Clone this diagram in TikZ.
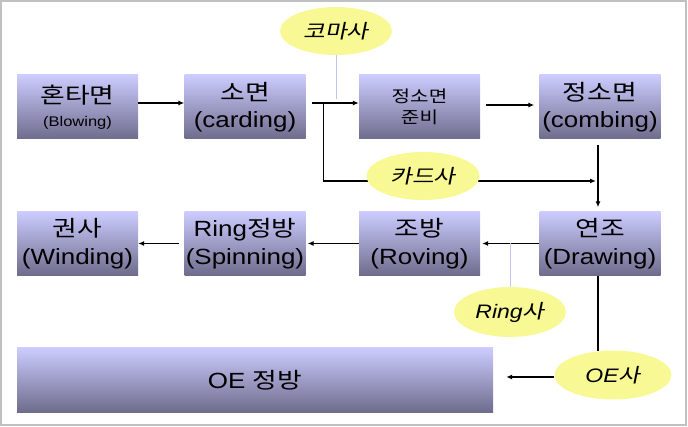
\documentclass[tikz,border=0pt]{standalone}
\usepackage{fontspec}
\setmainfont[FakeStretch=1.18]{Liberation Sans}
\newfontfamily\kr[FakeStretch=1.22]{Noto Sans CJK KR}
\newfontfamily\kri[FakeStretch=1.22,FakeSlant=0.2]{Noto Sans CJK KR}
\usetikzlibrary{arrows.meta,shapes.geometric}
\definecolor{boxtop}{HTML}{CCCCFF}
\definecolor{boxbot}{HTML}{6E6C8C}
\definecolor{ellfill}{HTML}{F8F894}
\definecolor{lav}{HTML}{C4C4EE}
\definecolor{framecol}{HTML}{C0C0C0}
\pgfdeclarelayer{bg}
\pgfsetlayers{bg,main}
\begin{document}
\begin{tikzpicture}[x=1pt,y=-1pt,
  procbox/.style={minimum width=121pt,minimum height=64pt,inner sep=0pt,
    top color=boxtop,bottom color=boxbot,align=center,
    font=\fontsize{22}{27.5}\selectfont},
  tag/.style={ellipse,fill=ellfill,inner sep=0pt,minimum width=113pt,minimum height=49pt,
    font=\fontsize{19.5}{22}\selectfont\itshape},
  arr/.style={line width=1.4pt,-{Latex[length=6pt,width=5pt]}},
  ln/.style={line width=1.4pt},
  lavline/.style={lav,line width=1pt}]
\useasboundingbox (0,0) rectangle (688,427);
\draw[framecol,line width=1.5pt] (1,1) rectangle (686,425);

% process boxes
\node[procbox] (blow) at (77.5,107) {{\kr 혼타면}\\[-4pt]{\fontsize{14}{17}\selectfont(Blowing)}};
\node[procbox] (card) at (245,107) {{\kr 소면}\\(carding)};
\node[procbox,font=\fontsize{16.5}{21.5}\selectfont\kr] (prep) at (419.5,107) {정소면\\준비};
\node[procbox] (comb) at (600,107) {{\kr 정소면}\\(combing)};
\node[procbox] (wind) at (77.5,243.5) {{\kr 권사}\\(Winding)};
\node[procbox] (spin) at (245,243.5) {Ring{\kr 정방}\\(Spinning)};
\node[procbox] (rov) at (419.5,243.5) {{\kr 조방}\\(Roving)};
\node[procbox] (drw) at (600,243.5) {{\kr 연조}\\(Drawing)};
\node[procbox,minimum width=476pt] (oe) at (255,380) {OE {\kr 정방}};

% yarn tags
\node[tag,minimum width=112pt,minimum height=48pt] (koma) at (336,31) {{\kri 코마사}};
\node[tag,minimum height=48pt] (cardsa) at (423,176) {{\kri 카드사}};
\node[tag,minimum width=112pt,minimum height=50pt] (ringsa) at (510,312) {Ring{\kri 사}};
\node[tag,minimum width=117pt] (oesa) at (613,375) {OE{\kri 사}};

% connectors
\coordinate (br) at ([xshift=18pt,yshift=4pt]card.east);
\coordinate (cj) at ([xshift=-4pt]comb.south |- cardsa);
\begin{pgfonlayer}{bg}
\draw[arr] (br) |- ([yshift=-5pt]cj);
\end{pgfonlayer}
\draw[arr] ([yshift=4pt]blow.east) -- ([yshift=4pt]card.west);
\draw[arr,shorten <=6pt] ([yshift=4pt]card.east) -- ([yshift=4pt]prep.west);
\draw[lavline] (koma.south) -- ([yshift=8pt]koma.south |- card.east);
\draw[arr,shorten <=6pt,shorten >=5pt] ([yshift=2pt]prep.east) -- ([yshift=2pt]comb.west);
\draw[arr,shorten <=6pt,shorten >=4pt] ([xshift=-2pt]comb.south) -- ([xshift=-2pt]drw.north);
\draw[arr,shorten >=2pt] (drw.west) -- (rov.east);
\draw[lavline] (ringsa.north) -- (ringsa.north |- rov.east);
\draw[arr,shorten >=2pt] (rov.west) -- (spin.east);
\draw[arr,shorten <=5pt] (spin.west) -- (wind.east);
\draw[ln] ([xshift=-2pt]drw.south) -- ([xshift=-15pt,yshift=-1pt]oesa.north);
\draw[arr,shorten >=13pt] ([yshift=-2pt]oesa.west) -- ([yshift=-2pt]oesa.west -| oe.east);
\end{tikzpicture}
\end{document}
